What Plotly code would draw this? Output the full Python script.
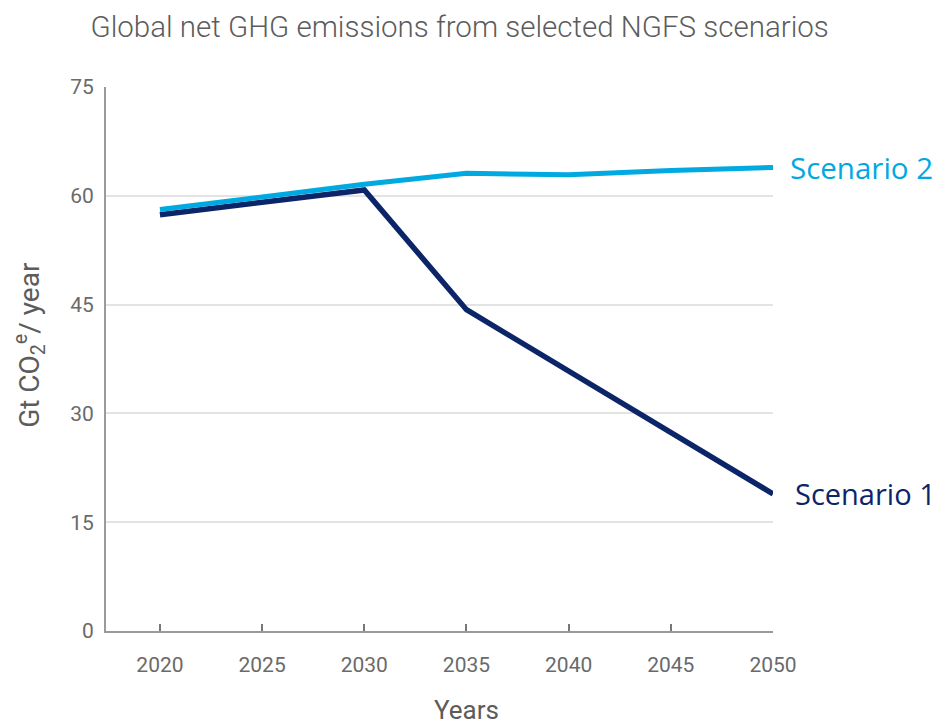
import plotly.graph_objects as go

years = [2020, 2025, 2030, 2035, 2040, 2045, 2050]
scenario_1 = [57.4, 59.1, 60.8, 44.3, 35.9, 27.3, 18.9]
scenario_2 = [58.1, 59.8, 61.6, 63.1, 62.9, 63.5, 63.9]
series_names = ["Scenario 1", "Scenario 2"]
y_ticks = [0, 15, 30, 45, 60, 75]
x_ticks = [2020, 2025, 2030, 2035, 2040, 2045, 2050]

c1 = "#0c2468"
c2 = "#00a9e0"
gray_txt = "#5c5c5c"
base_font = "Roboto, sans-serif"
label_font = "Open Sans, Roboto, sans-serif"

fig = go.Figure()
fig.add_trace(go.Scatter(x=years, y=scenario_1, mode="lines", name=series_names[0],
                         line=dict(color=c1, width=5.5), cliponaxis=False))
fig.add_trace(go.Scatter(x=years, y=scenario_2, mode="lines", name=series_names[1],
                         line=dict(color=c2, width=5), cliponaxis=False))

fig.add_annotation(x=years[-1], y=scenario_2[-1], text=series_names[1], showarrow=False,
                   xanchor="left", yanchor="middle", xshift=15,
                   font=dict(family=label_font, size=29.5, color=c2))
fig.add_annotation(x=years[-1], y=scenario_1[-1], text=series_names[0], showarrow=False,
                   xanchor="left", yanchor="middle", xshift=20,
                   font=dict(family=label_font, size=29, color=c1))

fig.add_annotation(x=2035, y=-0.145, xref="x", yref="paper", text="Years", showarrow=False,
                   xanchor="center", yanchor="middle",
                   font=dict(family=base_font, size=26, color=gray_txt))
fig.add_annotation(x=-0.114, y=0.526, xref="paper", yref="paper",
                   text="Gt CO<sub>2</sub><sup>e</sup>/ year", showarrow=False, textangle=-90,
                   xanchor="center", yanchor="middle",
                   font=dict(family=base_font, size=28, color=gray_txt))

fig.update_layout(
    width=940, height=726,
    margin=dict(l=106, r=167, t=87, b=95),
    paper_bgcolor="white", plot_bgcolor="white",
    showlegend=False,
    title=dict(text="Global net GHG emissions from selected NGFS scenarios",
               x=0.489, xanchor="center", y=0.963, yanchor="middle",
               font=dict(family=base_font, size=29.5, color=gray_txt, weight=300)),
    xaxis=dict(range=[2017.36, 2050], tickvals=x_ticks, ticktext=[str(v) for v in x_ticks],
               showgrid=False, zeroline=False, showline=True, linecolor="#9a9a9a", linewidth=2,
               ticks="inside", ticklen=7, tickwidth=2, tickcolor="#777777",
               ticklabelstandoff=14,
               tickfont=dict(family=base_font, size=21, color="#6a6a6a")),
    yaxis=dict(range=[0, 75], tickvals=y_ticks, showgrid=True, gridcolor="#e3e3e3", gridwidth=1.5,
               zeroline=False, showline=True, linecolor="#9a9a9a", linewidth=2,
               ticks="", ticklabelstandoff=6,
               tickfont=dict(family=base_font, size=21, color="#6a6a6a")),
)

fig.write_html("out.html", config={"displayModeBar": False},
               post_script="document.body.style.margin='0';")
